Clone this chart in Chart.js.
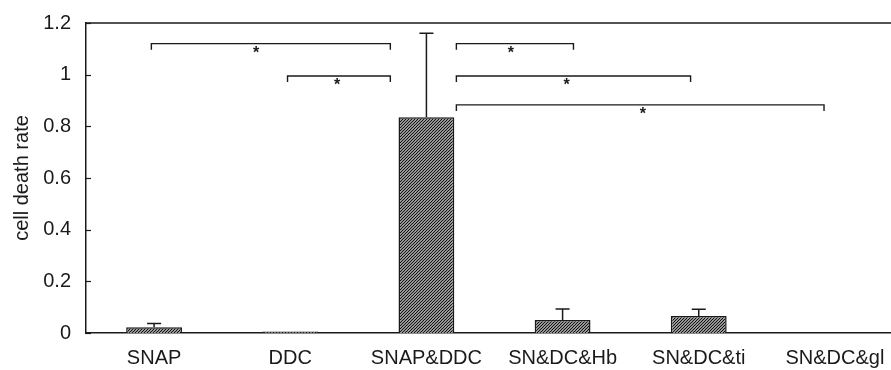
<!DOCTYPE html>
<html>
<head>
<meta charset="utf-8">
<script src="https://cdn.jsdelivr.net/npm/chart.js@4"></script>
<style>
  html, body { margin: 0; padding: 0; background: #fff; overflow: hidden; }
  .wrap { width: 905px; height: 370px; }
</style>
</head>
<body>
<div class="wrap"><canvas id="chart" width="905" height="370"></canvas></div>
<script>
// ---- data ----
const GROUPS = ["SNAP", "DDC", "SNAP&DDC", "SN&DC&Hb", "SN&DC&ti", "SN&DC&gl"];
const RATE = [0.022, 0.006, 0.835, 0.05, 0.066, 0];
const ERR = [0.015, 0, 0.325, 0.043, 0.026, 0];

// significance brackets (category index units, y in data units)
const BR_FROM = [-0.02, 0.98, 2.22, 2.22, 2.22];
const BR_TO = [1.735, 1.735, 3.08, 3.94, 4.92];
const BR_Y = [1.12, 0.995, 1.12, 0.995, 0.883];
const STAR_X = [0.75, 1.345, 2.62, 3.03, 3.59];

const INK = "#1a1a1a";
const FONT = "'Liberation Sans', Arial, sans-serif";

// hatch fill
function hatch() {
  const c = document.createElement("canvas");
  c.width = 3; c.height = 3;
  const g = c.getContext("2d");
  g.fillStyle = "#fff"; g.fillRect(0, 0, 3, 3);
  g.strokeStyle = "#111"; g.lineWidth = 1.25;
  g.beginPath();
  g.moveTo(0, 3); g.lineTo(3, 0);
  g.moveTo(-1, 1); g.lineTo(1, -1);
  g.moveTo(2, 4); g.lineTo(4, 2);
  g.stroke();
  return g.createPattern(c, "repeat");
}

const xAt = (sc, f) => {
  const i = Math.floor(f), t = f - i;
  const a = sc.getPixelForValue(i), b = sc.getPixelForValue(i + 1);
  return a + (b - a) * t;
};

const extras = {
  id: "extras",
  afterDatasetsDraw(chart) {
    const { ctx, scales: { x, y }, chartArea: ca } = chart;
    ctx.save();
    ctx.strokeStyle = INK; ctx.fillStyle = INK;
    // top frame
    ctx.lineWidth = 1.5;
    ctx.beginPath();
    ctx.moveTo(ca.left, y.getPixelForValue(1.2));
    ctx.lineTo(chart.width, y.getPixelForValue(1.2));
    ctx.stroke();
    // inward y ticks
    ctx.lineWidth = 1.2;
    y.ticks.forEach(t => {
      const py = Math.round(y.getPixelForValue(t.value)) + 0.5;
      ctx.beginPath(); ctx.moveTo(ca.left, py); ctx.lineTo(ca.left + 5, py); ctx.stroke();
    });
    // error bars
    const meta = chart.getDatasetMeta(0);
    ctx.lineWidth = 1.5;
    RATE.forEach((v, i) => {
      if (!ERR[i]) return;
      const px = meta.data[i].x;
      const y0 = y.getPixelForValue(v), y1 = y.getPixelForValue(v + ERR[i]);
      ctx.beginPath();
      ctx.moveTo(px, y0); ctx.lineTo(px, y1);
      ctx.moveTo(px - 7, y1); ctx.lineTo(px + 7, y1);
      ctx.stroke();
    });
    // brackets
    ctx.lineWidth = 1.4;
    ctx.font = "bold 16px " + FONT;
    ctx.textAlign = "center"; ctx.textBaseline = "middle";
    BR_Y.forEach((v, i) => {
      const py = y.getPixelForValue(v);
      const a = xAt(x, BR_FROM[i]), b = xAt(x, BR_TO[i]);
      ctx.beginPath();
      ctx.moveTo(a, py + 6); ctx.lineTo(a, py); ctx.lineTo(b, py); ctx.lineTo(b, py + 6);
      ctx.stroke();
      ctx.fillText("*", xAt(x, STAR_X[i]), py + 10);
    });
    ctx.restore();
  }
};

new Chart(document.getElementById("chart"), {
  type: "bar",
  data: {
    labels: GROUPS,
    datasets: [{
      data: RATE,
      backgroundColor: hatch(),
      borderColor: INK,
      borderWidth: 1.5,
      barPercentage: 0.41,
      categoryPercentage: 1
    }]
  },
  options: {
    responsive: false,
    animation: false,
    events: [],
    layout: { padding: { top: 23, right: 2, left: 0, bottom: 0 } },
    plugins: { legend: { display: false }, tooltip: { enabled: false } },
    scales: {
      x: {
        grid: { display: false, drawTicks: false },
        border: { color: INK, width: 1.5 },
        ticks: { color: INK, font: { family: FONT, size: 20 }, padding: 13, maxRotation: 0, autoSkip: false },
        afterFit: s => { s.height = 37; s.paddingLeft = 0; s.paddingRight = 0; }
      },
      y: {
        min: 0, max: 1.2,
        grid: { display: false, drawTicks: false },
        border: { color: INK, width: 1.5 },
        ticks: { stepSize: 0.2, color: INK, font: { family: FONT, size: 20 }, padding: 15,
          callback: v => String(+v.toFixed(1)) },
        title: { display: true, text: "cell death rate", color: INK,
          font: { family: FONT, size: 20 }, padding: { top: 10, bottom: 0 } },
        afterFit: s => { s.width = 86; s.paddingTop = 0; s.paddingBottom = 0; }
      }
    }
  },
  plugins: [extras]
});
</script>
</body>
</html>
